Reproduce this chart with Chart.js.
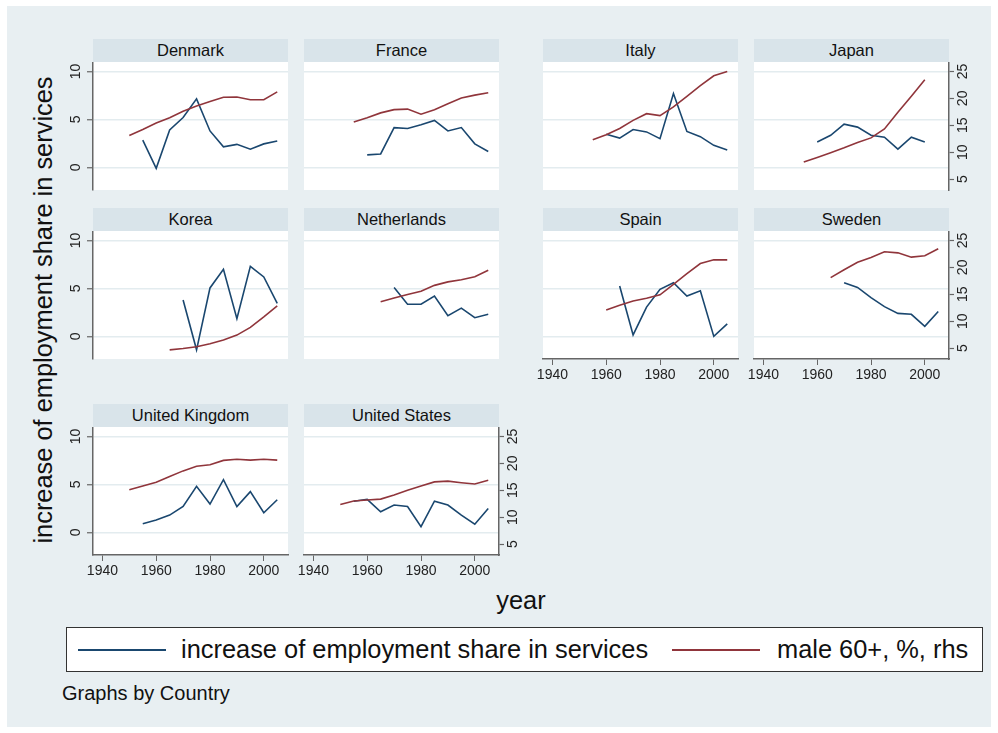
<!DOCTYPE html>
<html><head><meta charset="utf-8">
<script src="https://cdn.jsdelivr.net/npm/chart.js@4/dist/chart.umd.min.js"></script>
<style>
body{margin:0;width:998px;height:733px;background:#fff;position:relative;overflow:hidden;font-family:"Liberation Sans",Arial,sans-serif;}
#bg{position:absolute;left:7px;top:6px;width:984px;height:721px;background:#e8eff2;}
.strip{position:absolute;height:23px;background:#d9e4ea;color:#111;font-size:16.5px;text-align:center;line-height:22px;}
canvas{position:absolute;}
#ytitle{position:absolute;left:-257px;top:295px;width:600px;height:30px;line-height:30px;text-align:center;font-size:25.4px;color:#111;transform:rotate(-90deg);}
#xtitle{position:absolute;left:421px;top:585px;width:200px;height:30px;line-height:30px;text-align:center;font-size:25.4px;color:#111;}
#legend{position:absolute;left:66px;top:627px;width:915px;height:43px;background:#fff;border:1px solid #333;}
.lline{position:absolute;top:21px;height:0;border-top:2px solid;}
.ltext{position:absolute;top:6px;font-size:25.4px;line-height:30px;color:#111;white-space:nowrap;}
#note{position:absolute;left:62px;top:681px;font-size:20px;color:#111;line-height:24px;}
</style></head><body>
<div id="bg"></div>
<div id="ytitle">increase of employment share in services</div>
<div id="xtitle">year</div>
<div id="legend">
  <div class="lline" style="left:11px;width:88px;border-color:#1a476f"></div>
  <div class="ltext" style="left:114px">increase of employment share in services</div>
  <div class="lline" style="left:605px;width:88px;border-color:#90353b"></div>
  <div class="ltext" style="left:710px">male 60+, %, rhs</div>
</div>
<div id="note">Graphs by Country</div>
<script>
// ---- data (5-year steps) ----
const years = [1950,1955,1960,1965,1970,1975,1980,1985,1990,1995,2000,2005];
const yearTicks = [1940,1960,1980,2000];
const lhsTicks = [0,5,10];
const rhsTicks = [5,10,15,20,25];
const countries = ['Denmark','France','Italy','Japan','Korea','Netherlands','Spain','Sweden','United Kingdom','United States'];

const denmarkServices = [null,2.85,-0.1,3.9,5.2,7.15,3.8,2.15,2.4,1.9,2.45,2.75];
const denmarkMale60   = [13.1,14.2,15.4,16.4,17.6,18.6,19.4,20.2,20.25,19.75,19.75,21.2];
const franceServices  = [null,null,1.3,1.4,4.15,4.05,4.45,4.9,3.8,4.15,2.45,1.65];
const franceMale60    = [null,15.6,16.4,17.3,17.9,18.0,17.05,17.9,19.0,20.05,20.6,21.05];
const italyServices   = [null,null,3.45,3.05,3.95,3.7,3.0,7.7,3.75,3.2,2.3,1.8];
const italyMale60     = [null,12.3,13.25,14.4,15.9,17.15,16.8,18.4,20.35,22.35,24.2,25.0];
const japanServices   = [null,null,2.65,3.35,4.5,4.2,3.35,3.15,1.9,3.15,2.65,null];
const japanMale60     = [null,8.15,9.0,9.9,10.8,11.8,12.65,14.3,17.4,20.4,23.45,null];
const koreaServices   = [null,null,null,null,3.8,-1.4,5.05,7.0,1.85,7.3,6.2,3.45];
const koreaMale60     = [null,null,null,4.65,4.9,5.25,5.8,6.5,7.4,8.85,10.8,12.85];
const netherlandsServices = [null,null,null,null,5.1,3.35,3.35,4.2,2.15,2.95,1.95,2.3];
const netherlandsMale60   = [null,null,null,13.6,14.3,14.95,15.55,16.65,17.3,17.7,18.25,19.45];
const spainServices   = [null,null,null,5.25,0.15,3.05,4.9,5.6,4.2,4.75,0.0,1.3];
const spainMale60     = [null,null,12.05,12.95,13.75,14.25,14.9,16.85,18.85,20.7,21.4,21.4];
const swedenServices  = [null,null,null,null,5.6,5.1,4.05,3.1,2.4,2.3,1.05,2.6];
const swedenMale60    = [null,null,null,18.1,19.55,20.95,21.85,22.9,22.7,21.9,22.15,23.45];
const ukServices      = [null,0.9,1.3,1.8,2.7,4.8,2.95,5.5,2.7,4.25,2.05,3.4];
const ukMale60        = [15.1,15.8,16.5,17.55,18.6,19.45,19.75,20.55,20.75,20.6,20.75,20.6];
const usServices      = [null,3.25,3.45,2.15,2.85,2.7,0.6,3.25,2.85,1.8,0.85,2.5];
const usMale60        = [12.35,13.0,13.2,13.35,14.1,15.0,15.8,16.55,16.7,16.4,16.15,16.85];

const servicesByCountry = [denmarkServices,franceServices,italyServices,japanServices,koreaServices,netherlandsServices,spainServices,swedenServices,ukServices,usServices];
const male60ByCountry   = [denmarkMale60,franceMale60,italyMale60,japanMale60,koreaMale60,netherlandsMale60,spainMale60,swedenMale60,ukMale60,usMale60];

// ---- layout ----
const panelLayout = [
  {col:0,row:0,left:true},{col:1,row:0},{col:2,row:0},{col:3,row:0,right:true},
  {col:0,row:1,left:true},{col:1,row:1},{col:2,row:1,bottom:true},{col:3,row:1,right:true,bottom:true},
  {col:0,row:2,left:true,bottom:true},{col:1,row:2,right:true,bottom:true}
];
const colLeft=[93,304,543,754], plotTop=[62,231,427], plotW=195, plotH=128, M=45, B=30;
const BLUE='#1a476f', RED='#90353b', AX='#666', GRID='#e3ecef';

Chart.defaults.font.family='"Liberation Sans", Arial, sans-serif';
Chart.defaults.font.size=14;
Chart.defaults.color='#222';

const whiteArea={id:'whiteArea',beforeDraw(c){const a=c.chartArea,x=c.ctx;x.save();x.fillStyle='#fff';x.fillRect(a.left,a.top,a.right-a.left,a.bottom-a.top);x.restore();}};
function fixW(s){s.width=M;s.paddingTop=s.paddingBottom=s.paddingLeft=s.paddingRight=0;}
function fixH(s){s.height=B;s.paddingTop=s.paddingBottom=s.paddingLeft=s.paddingRight=0;}
function pts(arr){return years.map((y,i)=>({x:y,y:arr[i]})).filter(p=>p.y!==null);}
function setTicks(list){return s=>{s.ticks=list.map(v=>({value:v}));};}

countries.forEach((name,i)=>{
  const L=panelLayout[i];
  const strip=document.createElement('div');
  strip.className='strip'; strip.textContent=name;
  strip.style.left=colLeft[L.col]+'px'; strip.style.width=plotW+'px';
  strip.style.top=(plotTop[L.row]-23)+'px';
  document.body.appendChild(strip);
  const cv=document.createElement('canvas');
  cv.width=plotW+2*M; cv.height=plotH+B;
  cv.style.left=(colLeft[L.col]-M)+'px'; cv.style.top=plotTop[L.row]+'px';
  document.body.appendChild(cv);
  new Chart(cv,{
    type:'line',
    data:{datasets:[
      {label:'male 60+, %, rhs',data:pts(male60ByCountry[i]),yAxisID:'y2',borderColor:RED,borderWidth:1.6,pointRadius:0,tension:0},
      {label:'increase of employment share in services',data:pts(servicesByCountry[i]),yAxisID:'y',borderColor:BLUE,borderWidth:1.6,pointRadius:0,tension:0}
    ]},
    options:{
      responsive:false,animation:false,devicePixelRatio:1,
      layout:{padding:0},
      plugins:{legend:{display:false},tooltip:{enabled:false}},
      scales:{
        x:{type:'linear',position:'bottom',min:1936.5,max:2009,afterBuildTicks:setTicks(yearTicks),afterFit:fixH,
           grid:{display:!!L.bottom,drawOnChartArea:false,drawTicks:true,tickLength:6,tickColor:AX},
           border:{display:!!L.bottom,color:AX,width:1.5},
           ticks:{display:!!L.bottom,padding:2,maxRotation:0,minRotation:0,callback:v=>String(v)}},
        y:{type:'linear',position:'left',min:-2.36,max:10.99,afterBuildTicks:setTicks(lhsTicks),afterFit:fixW,
           grid:{display:true,drawOnChartArea:true,drawTicks:!!L.left,tickLength:6,color:GRID,lineWidth:1.5,tickColor:AX,tickWidth:1.2},
           border:{display:!!L.left,color:AX,width:1.5},
           ticks:{display:!!L.left,minRotation:90,maxRotation:90,crossAlign:'center',padding:3}},
        y2:{type:'linear',position:'right',min:2.96,max:26.76,afterBuildTicks:setTicks(rhsTicks),afterFit:fixW,
           grid:{display:!!L.right,drawOnChartArea:false,drawTicks:true,tickLength:5,tickColor:AX,tickWidth:1.2},
           border:{display:!!L.right,color:AX,width:1.5},
           ticks:{display:!!L.right,minRotation:90,maxRotation:90,crossAlign:'center',padding:1}}
      }
    },
    plugins:[whiteArea]
  });
});
</script>
</body></html>
